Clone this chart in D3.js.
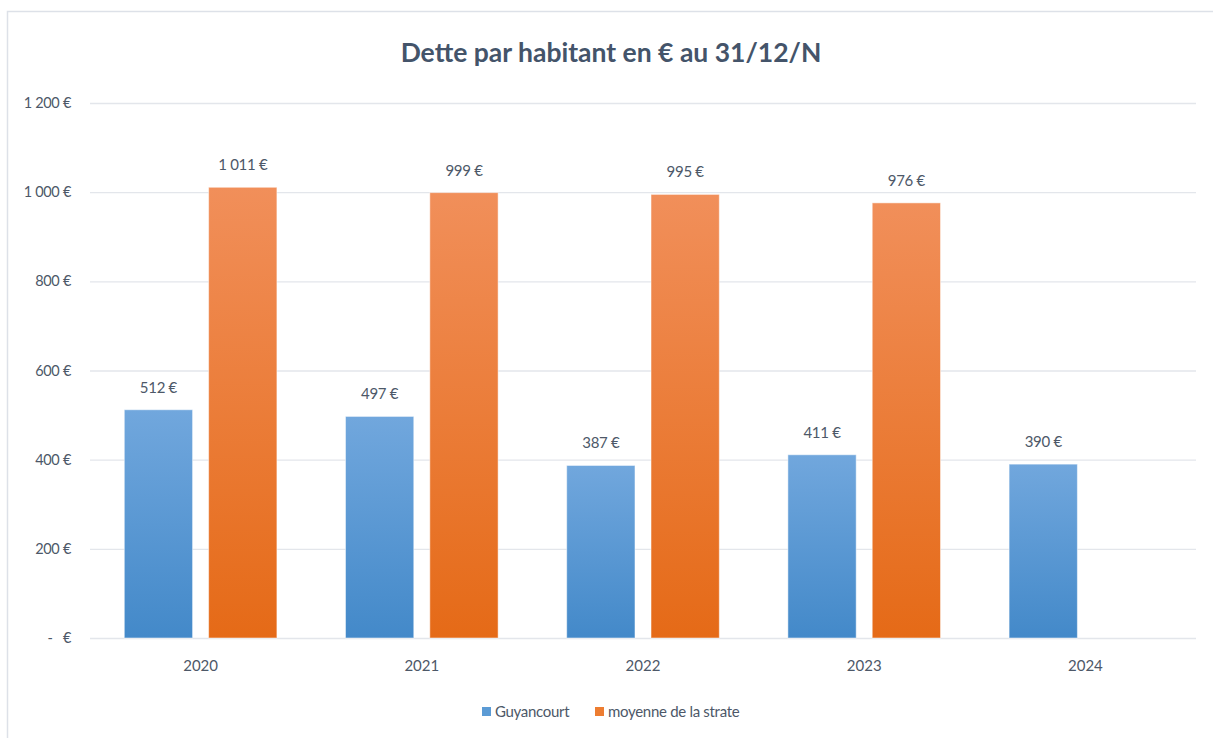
<!DOCTYPE html>
<html><head><meta charset="utf-8">
<script src="https://cdn.jsdelivr.net/npm/d3@7"></script>
<style>body{margin:0;background:#fff}svg{display:block}text{font-family:Lato,"Open Sans",sans-serif}</style>
</head><body><svg id="c" width="1213" height="738"></svg>
<script>
const years = ["2020","2021","2022","2023","2024"];
const seriesNames = ["Guyancourt","moyenne de la strate"];
const guyancourt = [512,497,387,411,390];
const strate = [1011,999,995,976,null];
const yTicks = [0,200,400,600,800,1000,1200];
const title = "Dette par habitant en € au 31/12/N";

const svg = d3.select("#c");
const W=1213,H=738;
const m={l:90,r:1196,t:103,b:638};
const txt="#4d5868";

svg.append("rect").attr("x",7.5).attr("y",11.5).attr("width",W).attr("height",H).attr("fill","#fff").attr("stroke","#dde1e8").attr("stroke-width",1.5);

const defs=svg.append("defs");
function grad(id,c1,c2){const g=defs.append("linearGradient").attr("id",id).attr("x1",0).attr("y1",0).attr("x2",0).attr("y2",1);
 g.append("stop").attr("offset","0%").attr("stop-color",c1);g.append("stop").attr("offset","100%").attr("stop-color",c2);}
grad("gB","#71a7dd","#4389c9");
grad("gO","#f18f5a","#e56a17");
const fills=["url(#gB)","url(#gO)"];
const legendColors=["#5b9bd5","#ed7d31"];

const y=d3.scaleLinear().domain([0,1200]).range([m.b,m.t]);
const x0=d3.scaleBand().domain(years).range([m.l,m.r]).paddingInner(0.31).paddingOuter(0.155);
const x1=d3.scaleBand().domain(seriesNames).range([0,x0.bandwidth()]).paddingInner(0.19);

// grid
const yAxis=d3.axisLeft(y).tickValues(yTicks).tickSize(-(m.r-m.l)).tickPadding(19)
 .tickFormat(d=>d===0?"-   €":d3.format(",")(d).replace(/,/g," ")+" €");
const ga=svg.append("g").attr("transform",`translate(${m.l},0)`).call(yAxis);
ga.select(".domain").remove();
ga.selectAll(".tick line").attr("stroke","#e3e6eb").attr("stroke-width",1.3);
ga.selectAll(".tick text").attr("fill",txt).attr("font-size",14.5).style("white-space","pre").attr("letter-spacing","-0.3");

const data=years.map((yr,i)=>({yr,vals:[guyancourt[i],strate[i]]}));
const g=svg.append("g");
data.forEach(d=>{
 d.vals.forEach((v,j)=>{
  if(v==null)return;
  const bx=x0(d.yr)+x1(seriesNames[j]);
  g.append("rect").attr("x",bx).attr("y",y(v)).attr("width",x1.bandwidth()).attr("height",y(0)-y(v))
   .attr("fill",fills[j]).attr("stroke","rgba(255,255,255,0.5)").attr("stroke-width",1);
  g.append("text").attr("x",bx+x1.bandwidth()/2).attr("y",y(v)-17).attr("text-anchor","middle")
   .attr("fill",txt).attr("font-size",15).attr("letter-spacing","-0.3")
   .text(d3.format(",")(v).replace(/,/g," ")+" €");
 });
});

const xAxis=d3.axisBottom(x0).tickSize(0).tickPadding(22);
const gx=svg.append("g").attr("transform",`translate(0,${m.b})`).call(xAxis);
gx.select(".domain").remove();
gx.selectAll(".tick text").attr("fill",txt).attr("font-size",15);

svg.append("text").attr("x",611).attr("y",62).attr("text-anchor","middle").attr("font-weight","bold")
 .attr("font-size",26.5).attr("fill","#44546a").text(title);

// legend
const lx=[482,595];
seriesNames.forEach((n,i)=>{
 svg.append("rect").attr("x",lx[i]).attr("y",707).attr("width",9).attr("height",9).attr("fill",legendColors[i]);
 svg.append("text").attr("x",lx[i]+13).attr("y",717).attr("fill",txt).attr("font-size",15).attr("letter-spacing","-0.3").text(n);
});
</script></body></html>
